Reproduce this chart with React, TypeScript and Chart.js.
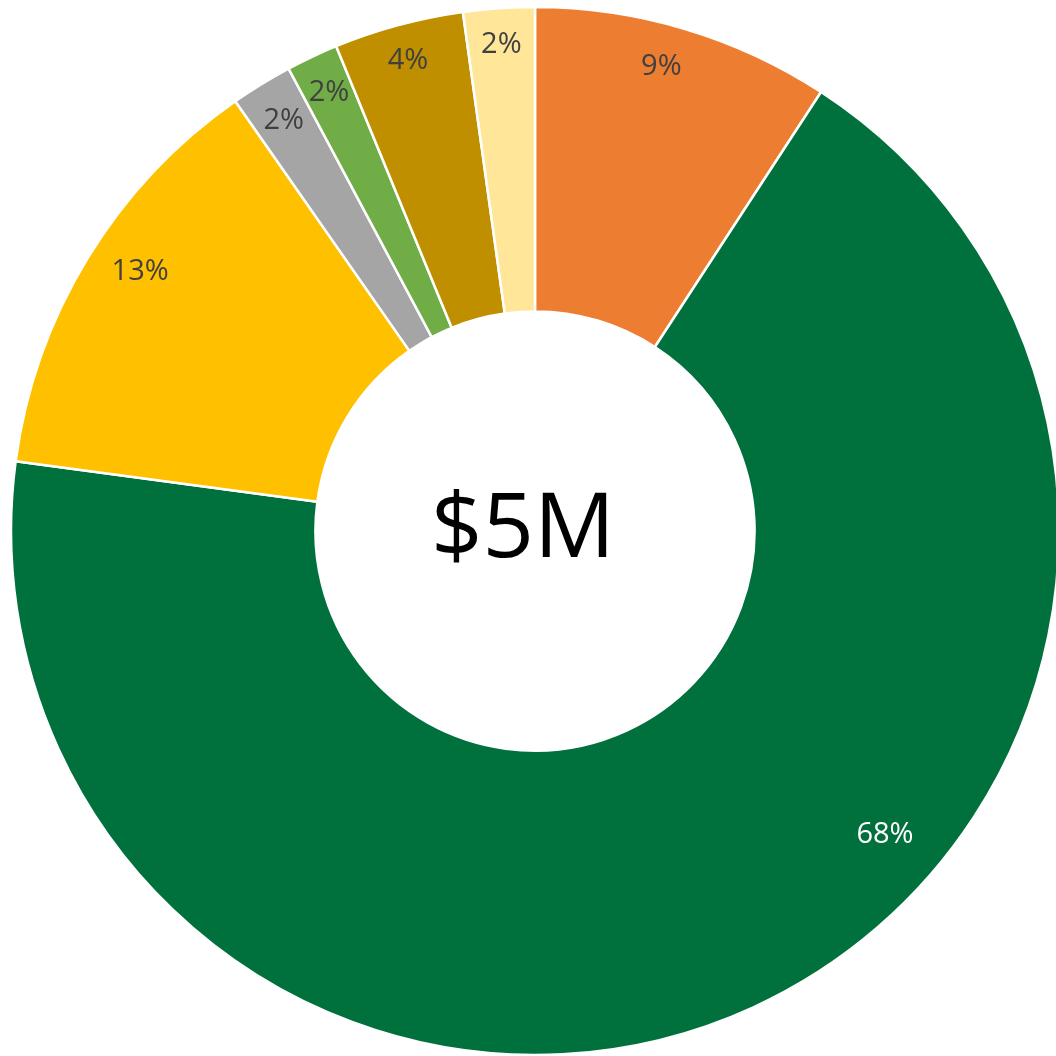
import React, { useEffect, useRef } from "react";
import { Chart, registerables } from "chart.js";

Chart.register(...registerables);

// Data (share of total, %)
const categories = ["Segment 1", "Segment 2", "Segment 3", "Segment 4", "Segment 5", "Segment 6", "Segment 7"];
const shares = [9.2, 68.0, 13.2, 1.9, 1.6, 4.0, 2.2];
const centerLabel = "$5M";

// Styles
const sliceColors = ["#ED7D31", "#00703C", "#FFC000", "#A5A5A5", "#70AD47", "#BF8F00", "#FFE699"];
const labelColors = ["#404040", "#FFFFFF", "#404040", "#404040", "#404040", "#404040", "#404040"];
const labelAngleFraction = [0.46, 0.4, 0.54, 0.5, 0.5, 0.5, 0.5];
const labelRadiusFraction = [0.86, 0.8, 0.83, 0.86, 0.87, 0.88, 0.88];
const FONT = "'Open Sans', 'DejaVu Sans', sans-serif";

const labelPlugin = {
  id: "sliceLabels",
  afterDatasetsDraw(chart: any) {
    const ctx = chart.ctx;
    const meta = chart.getDatasetMeta(0);
    const data = chart.data.datasets[0].data as number[];
    const total = data.reduce((a: number, b: number) => a + b, 0);
    ctx.save();
    ctx.font = `29px ${FONT}`;
    ctx.textAlign = "center";
    ctx.textBaseline = "middle";
    meta.data.forEach((arc: any, i: number) => {
      const p = arc.getProps(["x", "y", "startAngle", "endAngle", "innerRadius", "outerRadius"], true);
      const a = p.startAngle + labelAngleFraction[i] * (p.endAngle - p.startAngle);
      const r = p.innerRadius + labelRadiusFraction[i] * (p.outerRadius - p.innerRadius);
      const pct = Math.round((data[i] / total) * 100);
      ctx.fillStyle = labelColors[i];
      ctx.fillText(`${pct}%`, p.x + Math.cos(a) * r, p.y + Math.sin(a) * r);
    });
    // center text
    const first = meta.data[0] as any;
    if (first) {
      ctx.font = `90px ${FONT}`;
      ctx.fillStyle = "#000000";
      ctx.fillText(centerLabel, first.x - 12, first.y);
    }
    ctx.restore();
  },
};

export default function App() {
  const ref = useRef<HTMLCanvasElement | null>(null);
  useEffect(() => {
    if (!ref.current) return;
    const chart = new Chart(ref.current, {
      type: "doughnut",
      data: {
        labels: categories,
        datasets: [
          {
            data: shares,
            backgroundColor: sliceColors,
            borderColor: "#FFFFFF",
            borderWidth: 2.5,
            hoverOffset: 0,
          },
        ],
      },
      options: {
        responsive: false,
        animation: false,
        devicePixelRatio: 1,
        radius: 524,
        cutout: 222,
        rotation: 0,
        layout: { padding: 0 },
        plugins: {
          legend: { display: false },
          tooltip: { enabled: false },
          title: { display: false },
        },
        events: [],
      },
      plugins: [labelPlugin],
    });
    return () => chart.destroy();
  }, []);
  return (
    <div
      style={{
        position: "fixed",
        left: 0,
        top: 0,
        width: 1056,
        height: 1056,
        overflow: "hidden",
        background: "#FFFFFF",
      }}
    >
      <canvas
        ref={ref}
        width={1070}
        height={1062}
        style={{ position: "absolute", left: 0, top: 0, width: 1070, height: 1062 }}
      />
    </div>
  );
}
